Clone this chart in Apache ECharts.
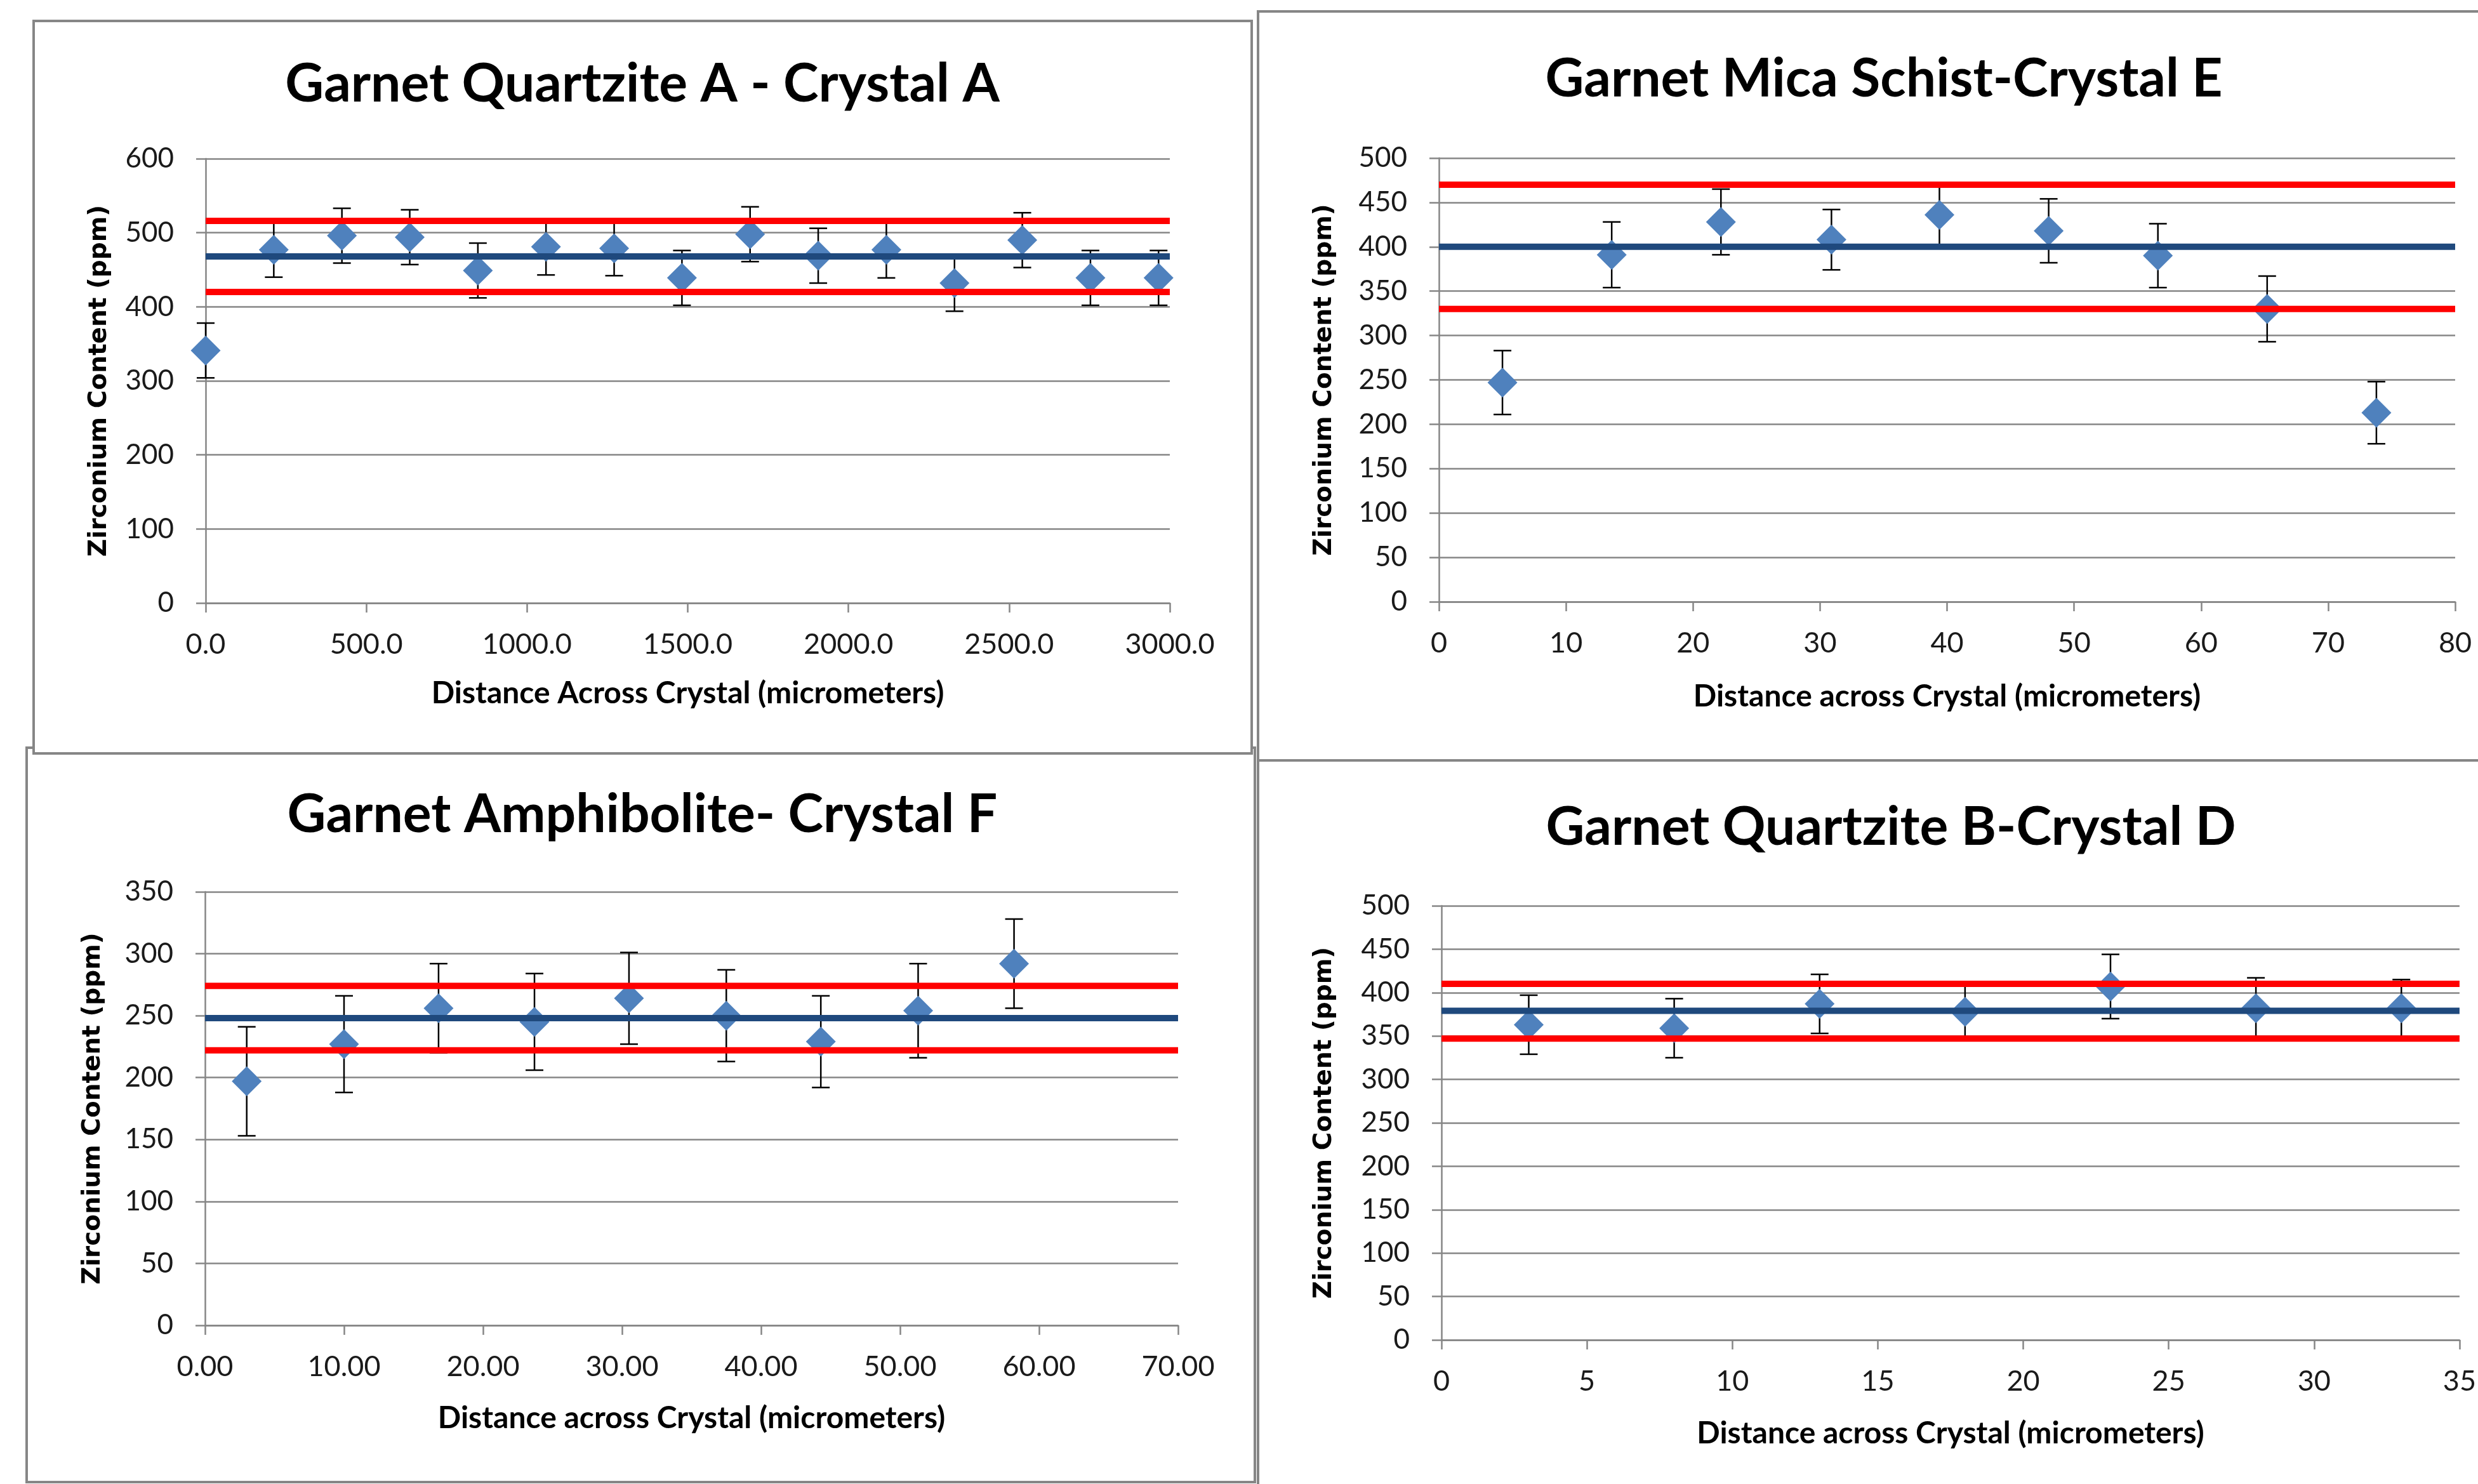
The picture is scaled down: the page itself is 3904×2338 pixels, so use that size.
<!DOCTYPE html>
<html><head><meta charset="utf-8">
<script src="https://cdn.jsdelivr.net/npm/echarts@6/dist/echarts.min.js"></script>
<style>html,body{margin:0;padding:0;background:#fff}#c{width:3904px;height:2338px}</style>
</head><body><div id="c"></div>
<script>
// ---------- Data ----------
// Panel 1: Garnet Quartzite A - Crystal A
const titleA = 'Garnet Quartzite A - Crystal A';
const xA = [0, 212, 424, 635, 847, 1059, 1271, 1482, 1694, 1906, 2118, 2330, 2541, 2753, 2965];
const yA = [341, 477, 496, 494, 449, 481, 479, 439, 498, 469, 477, 432, 490, 439, 439];
const errA = [37, 37, 37, 37, 37, 38, 37, 37, 37, 37, 38, 38, 37, 37, 37];
const meanA = 468, upperA = 516, lowerA = 420;
const xRangeA = [0, 3000], yRangeA = [0, 600];
const xStepA = 500, yStepA = 100;
const xNameA = 'Distance Across Crystal (micrometers)';

// Panel 2: Garnet Mica Schist-Crystal E
const titleE = 'Garnet Mica Schist-Crystal E';
const xE = [5.0, 13.6, 22.2, 30.9, 39.4, 48.0, 56.6, 65.2, 73.8];
const yE = [247, 391, 428, 408, 436, 418, 390, 330, 213];
const errE = [36, 37, 37, 34, 34, 36, 36, 37, 35];
const meanE = 400, upperE = 470, lowerE = 330;
const xRangeE = [0, 80], yRangeE = [0, 500];
const xStepE = 10, yStepE = 50;
const xNameE = 'Distance across Crystal (micrometers)';

// Panel 3: Garnet Amphibolite- Crystal F
const titleF = 'Garnet Amphibolite- Crystal F';
const xF = [3.0, 10.0, 16.8, 23.7, 30.5, 37.5, 44.3, 51.3, 58.2];
const yF = [197, 227, 256, 245, 264, 250, 229, 254, 292];
const errF = [44, 39, 36, 39, 37, 37, 37, 38, 36];
const meanF = 248, upperF = 274, lowerF = 222;
const xRangeF = [0, 70], yRangeF = [0, 350];
const xStepF = 10, yStepF = 50;
const xNameF = 'Distance across Crystal (micrometers)';

// Panel 4: Garnet Quartzite B-Crystal D
const titleD = 'Garnet Quartzite B-Crystal D';
const xD = [3, 8, 13, 18, 23, 28, 33];
const yD = [363, 359, 387, 378, 407, 382, 382];
const errD = [34, 34, 34, 33, 37, 35, 33];
const meanD = 379, upperD = 410, lowerD = 347;
const xRangeD = [0, 35], yRangeD = [0, 500];
const xStepD = 5, yStepD = 50;
const xNameD = 'Distance across Crystal (micrometers)';

const yName = 'Zirconium Content (ppm)';

// ---------- Styling / layout ----------
const FONT = 'Lato, "Open Sans", "Noto Sans", sans-serif';
const GRAY = '#868686';
const MARKER = '#4F81BD';
const MEAN_C = '#1F497D';
const LIM_C = '#FF0000';

const layouts = [
  {grid: {left: 324, top: 250, width: 1519, height: 700}, title: [1012, 133], yGap: 148, xGap: 119, xDec: 1},
  {grid: {left: 2267, top: 249, width: 1601, height: 699}, title: [2968, 125], yGap: 161, xGap: 126, xDec: 0},
  {grid: {left: 323, top: 1405, width: 1533, height: 683}, title: [1012, 1284], yGap: 157, xGap: 123, xDec: 2},
  {grid: {left: 2271, top: 1427, width: 1617, height: 684}, title: [2979, 1304], yGap: 165, xGap: 124, xDec: 0}
];

const panels = [
  {title: titleA, x: xA, y: yA, err: errA, mean: meanA, up: upperA, lo: lowerA, xr: xRangeA, yr: yRangeA, xs: xStepA, ys: yStepA, xName: xNameA},
  {title: titleE, x: xE, y: yE, err: errE, mean: meanE, up: upperE, lo: lowerE, xr: xRangeE, yr: yRangeE, xs: xStepE, ys: yStepE, xName: xNameE},
  {title: titleF, x: xF, y: yF, err: errF, mean: meanF, up: upperF, lo: lowerF, xr: xRangeF, yr: yRangeF, xs: xStepF, ys: yStepF, xName: xNameF},
  {title: titleD, x: xD, y: yD, err: errD, mean: meanD, up: upperD, lo: lowerD, xr: xRangeD, yr: yRangeD, xs: xStepD, ys: yStepD, xName: xNameD}
];

function errRender(params, api) {
  const x = api.value(0), lo = api.value(1), hi = api.value(2);
  const a = api.coord([x, lo]), b = api.coord([x, hi]);
  const h = 14;
  const st = {stroke: '#000', lineWidth: 2.5};
  return {type: 'group', children: [
    {type: 'line', shape: {x1: a[0], y1: a[1], x2: b[0], y2: b[1]}, style: st},
    {type: 'line', shape: {x1: a[0] - h, y1: a[1], x2: a[0] + h, y2: a[1]}, style: st},
    {type: 'line', shape: {x1: b[0] - h, y1: b[1], x2: b[0] + h, y2: b[1]}, style: st}
  ]};
}

const option = {
  backgroundColor: '#fff',
  animation: false,
  title: [], grid: [], xAxis: [], yAxis: [], series: [],
  graphic: [
    {type: 'rect', z: -12, shape: {x: 42, y: 1178, width: 1935, height: 1157}, style: {fill: '#fff', stroke: GRAY, lineWidth: 4}},
    {type: 'rect', z: -12, shape: {x: 1982, y: 1198, width: 1940, height: 1160}, style: {fill: '#fff', stroke: GRAY, lineWidth: 4}},
    {type: 'rect', z: -11, shape: {x: 53, y: 33, width: 1919, height: 1154}, style: {fill: '#fff', stroke: GRAY, lineWidth: 4}},
    {type: 'rect', z: -11, shape: {x: 1982, y: 18, width: 1940, height: 1180}, style: {fill: '#fff', stroke: GRAY, lineWidth: 4}}
  ]
};

panels.forEach((p, i) => {
  const L = layouts[i];
  option.title.push({
    text: p.title, left: L.title[0], top: L.title[1], textAlign: 'center', textVerticalAlign: 'middle',
    padding: 0,
    textStyle: {fontFamily: FONT, fontWeight: 'bold', fontSize: 84, color: '#000'}
  });
  option.grid.push(Object.assign({containLabel: false}, L.grid));
  option.xAxis.push({
    gridIndex: i, type: 'value', min: p.xr[0], max: p.xr[1], interval: p.xs,
    name: p.xName, nameLocation: 'middle', nameGap: L.xGap,
    nameTextStyle: {fontFamily: FONT, fontWeight: 'bold', fontSize: 48, color: '#000'},
    axisLine: {show: true, onZero: false, lineStyle: {color: GRAY, width: 2.5}},
    axisTick: {show: true, length: 15, lineStyle: {color: GRAY, width: 2.5}},
    splitLine: {show: false},
    axisLabel: {margin: 43, fontFamily: FONT, fontSize: 45, color: '#1a1a1a', showMaxLabel: true, showMinLabel: true,
      formatter: v => v.toFixed(L.xDec)}
  });
  option.yAxis.push({
    gridIndex: i, type: 'value', min: p.yr[0], max: p.yr[1], interval: p.ys,
    name: yName, nameLocation: 'middle', nameGap: L.yGap,
    nameTextStyle: {fontFamily: '"DejaVu Sans", Verdana, sans-serif', fontWeight: 'bold', fontSize: 39, color: '#000'},
    axisLine: {show: true, lineStyle: {color: GRAY, width: 2.5}},
    axisTick: {show: true, length: 15, lineStyle: {color: GRAY, width: 2.5}},
    splitLine: {show: true, lineStyle: {color: GRAY, width: 2.5}},
    axisLabel: {margin: 50, fontFamily: FONT, fontSize: 44, color: '#1a1a1a'}
  });
  option.series.push({
    type: 'custom', xAxisIndex: i, yAxisIndex: i, renderItem: errRender,
    encode: {x: 0, y: [1, 2]},
    data: p.x.map((xv, k) => [xv, p.y[k] - p.err[k], p.y[k] + p.err[k]]), z: 3
  });
  option.series.push({
    type: 'scatter', xAxisIndex: i, yAxisIndex: i, symbol: 'diamond', symbolSize: 47,
    itemStyle: {color: MARKER, opacity: 1}, data: p.x.map((xv, k) => [xv, p.y[k]]), z: 4
  });
  [[p.up, LIM_C], [p.lo, LIM_C], [p.mean, MEAN_C]].forEach(([v, c]) => {
    option.series.push({
      type: 'line', xAxisIndex: i, yAxisIndex: i, symbol: 'none', silent: true,
      lineStyle: {color: c, width: 10}, data: [[p.xr[0], v], [p.xr[1], v]], z: 5
    });
  });
});

const chart = echarts.init(document.getElementById('c'), null, {renderer: 'canvas'});
chart.setOption(option);
</script></body></html>
